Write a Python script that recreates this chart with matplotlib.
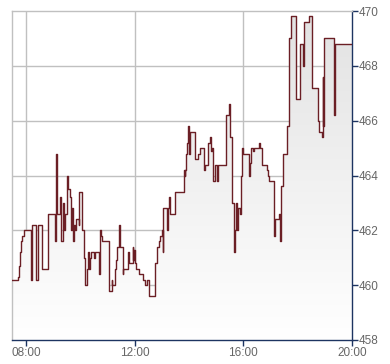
import matplotlib
matplotlib.use('Agg')
import matplotlib.pyplot as plt
import numpy as np

# step series: time of change -> new value
times = ['07:29', '07:43', '07:45', '07:47', '07:50', '07:52', '07:56', '08:10', '08:13', '08:23',
         '08:27', '08:35', '08:49', '09:03', '09:06', '09:08', '09:14', '09:18', '09:21', '09:23',
         '09:26', '09:30', '09:33', '09:37', '09:39', '09:42', '09:44', '09:45', '09:48', '09:50',
         '09:56', '09:58', '10:04', '10:07', '10:09', '10:11', '10:15', '10:18', '10:20', '10:22',
         '10:24', '10:30', '10:32', '10:41', '10:43', '10:46', '10:48', '10:53', '11:03', '11:04',
         '11:09', '11:11', '11:16', '11:18', '11:22', '11:25', '11:27', '11:34', '11:35', '11:46',
         '11:48', '11:56', '11:57', '11:58', '12:01', '12:04', '12:10', '12:19', '12:22', '12:27',
         '12:32', '12:46', '12:50', '12:53', '12:56', '13:00', '13:02', '13:03', '13:11', '13:13',
         '13:15', '13:17', '13:28', '13:49', '13:51', '13:52', '13:53', '13:56', '13:58', '14:00',
         '14:02', '14:13', '14:20', '14:24', '14:33', '14:36', '14:42', '14:46', '14:48', '14:51',
         '14:54', '14:57', '15:02', '15:04', '15:22', '15:28', '15:31', '15:36', '15:39', '15:41',
         '15:44', '15:47', '15:48', '15:52', '15:54', '15:57', '16:00', '16:12', '16:14', '16:16',
         '16:22', '16:23', '16:35', '16:37', '16:42', '16:53', '16:54', '16:57', '17:07', '17:11',
         '17:19', '17:22', '17:24', '17:27', '17:28', '17:37', '17:41', '17:45', '17:57', '18:05',
         '18:12', '18:13', '18:15', '18:26', '18:32', '18:46', '18:48', '18:53', '18:55', '18:56',
         '18:57', '18:58', '18:59', '19:21', '19:23', '20:00']
values = [460.2, 460.3, 460.7, 461.2, 461.6, 461.8, 462.0, 460.2, 462.2, 460.2,
          462.2, 460.6, 462.6, 461.6, 464.8, 462.6, 463.2, 461.6, 463.0, 462.0,
          462.6, 464.0, 463.5, 463.2, 462.0, 462.8, 461.6, 462.2, 462.0, 462.4,
          462.2, 463.4, 462.0, 461.4, 461.0, 460.0, 460.6, 461.2, 460.6, 461.0,
          461.2, 461.0, 461.2, 460.4, 462.0, 461.8, 461.6, 461.6, 460.2, 459.8,
          460.2, 460.0, 460.6, 460.9, 461.4, 462.2, 461.4, 460.4, 460.6, 461.2,
          460.8, 461.4, 460.9, 461.3, 460.8, 460.6, 460.4, 460.2, 460.0, 460.2,
          459.6, 460.8, 461.4, 461.6, 461.8, 462.0, 461.2, 462.8, 462.0, 462.8,
          463.2, 462.6, 463.4, 464.2, 464.0, 464.2, 464.8, 465.2, 465.8, 464.8,
          465.6, 464.6, 464.8, 465.0, 464.2, 464.4, 465.2, 465.4, 464.9, 465.0,
          463.8, 464.4, 463.8, 464.4, 466.2, 466.6, 465.4, 463.0, 461.2, 462.0,
          463.0, 462.0, 462.8, 462.6, 464.0, 465.0, 464.8, 464.0, 464.45, 465.0,
          464.9, 465.0, 465.2, 465.0, 464.4, 464.2, 464.0, 463.8, 461.8, 462.4,
          462.6, 461.6, 463.6, 463.8, 464.8, 465.8, 469.0, 469.8, 466.8, 468.8,
          468.0, 468.8, 469.6, 469.8, 467.2, 466.0, 465.6, 465.4, 465.6, 467.6,
          465.8, 467.6, 469.0, 466.2, 468.8, 468.8]

x_ticks = [8, 12, 16, 20]
x_labels = ['08:00', '12:00', '16:00', '20:00']
y_ticks = [458, 460, 462, 464, 466, 468, 470]

hours = np.array([int(t[:2]) + int(t[3:]) / 60 for t in times])
vals = np.array(values)

line_col = '#6b1f25'
navy = '#1d3461'
grid_col = '#c0c0c0'

fig = plt.figure(figsize=(3.9, 3.64), dpi=100)
ax = fig.add_axes([12 / 390, 24 / 364, 340 / 390, 329 / 364])

ax.set_xlim(8 - 14 / 27.17, 20)
ax.set_ylim(458, 470)

# gradient fill under the step line
fill = ax.fill_between(hours, vals, 458, step='post', color='none', lw=0)
grad = np.linspace(0, 1, 256).reshape(-1, 1)
img = ax.imshow(grad, extent=[ax.get_xlim()[0], 20, 458, 470], origin='lower',
                cmap=matplotlib.colors.LinearSegmentedColormap.from_list('g', ['#ffffff', '#e2e2e2']),
                aspect='auto', zorder=1, interpolation='bilinear')
img.set_clip_path(fill.get_paths()[0], transform=ax.transData)

ax.step(hours, vals, where='post', color=line_col, lw=1.0, zorder=3)

for xv in [8, 12, 16]:
    ax.axvline(xv, color=grid_col, lw=1.0, zorder=0.5)
for yv in [460, 462, 464, 466, 468]:
    ax.axhline(yv, color=grid_col, lw=1.0, zorder=0.5)

ax.spines['left'].set_color(grid_col)
ax.spines['top'].set_color(grid_col)
ax.spines['right'].set_color(navy)
ax.spines['bottom'].set_color(navy)
for s in ax.spines.values():
    s.set_linewidth(1.0)

ax.set_xticks(x_ticks)
ax.set_xticklabels(x_labels)
ax.set_yticks(y_ticks)
ax.yaxis.tick_right()
ax.tick_params(axis='both', direction='out', length=4, width=1, color=navy,
               labelcolor='#666666', labelsize=8.5, pad=1)
for lab in ax.get_xticklabels() + ax.get_yticklabels():
    lab.set_family('Liberation Sans')

fig.savefig('out.png', dpi=100)
